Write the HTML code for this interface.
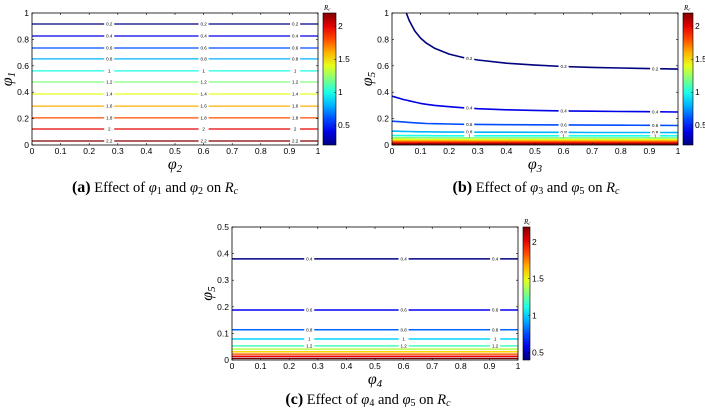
<!DOCTYPE html>
<html><head><meta charset="utf-8"><style>
body{margin:0;background:#fff;width:705px;height:414px;overflow:hidden}
svg{display:block}
.tk{font-family:"Liberation Sans",sans-serif;font-size:8.5px;fill:#000}
.ax{font-family:"Liberation Serif",serif;font-style:italic;font-size:16px;fill:#000}
.rc{font-family:"Liberation Serif",serif;font-style:italic;font-size:7px;fill:#000}
.cap{font-family:"Liberation Serif",serif;font-size:14.5px;fill:#000}
.cl{font-family:"Liberation Sans",sans-serif;font-size:4.5px;fill:#000}
</style></head><body>
<svg id="fig" width="705" height="414"></svg>
<script>
// ---- data ----
const levelsA = [0.2,0.4,0.6,0.8,1,1.2,1.4,1.6,1.8,2,2.2];
const phi1A   = [0.917,0.826,0.735,0.652,0.561,0.477,0.386,0.295,0.205,0.121,0.030];
const phi3B = [0,0.04,0.05,0.06,0.08,0.1,0.12,0.15,0.2,0.25,0.3,0.4,0.5,0.6,0.7,0.8,0.9,1];
const levelsB = [0.2,0.4,0.6,0.8,1,1.2,1.4,1.6,1.8,2,2.2];
const b02 = [2.1,1.076,1.0,0.943,0.863,0.81,0.772,0.732,0.689,0.662,0.644,0.62,0.605,0.595,0.588,0.583,0.579,0.575];
const b04 = [0.37,0.345,0.34,0.335,0.325,0.315,0.308,0.3,0.29,0.282,0.275,0.267,0.262,0.258,0.256,0.254,0.252,0.25];
const b06 = [0.18,0.175,0.173,0.171,0.168,0.165,0.163,0.161,0.159,0.157,0.156,0.154,0.153,0.152,0.151,0.15,0.149,0.148];
const b08 = [0.105,0.103,0.102,0.102,0.101,0.1,0.1,0.099,0.098,0.098,0.097,0.097,0.096,0.096,0.095,0.095,0.095,0.094];
const b10 = [0.072,0.072,0.071,0.071,0.071,0.071,0.071,0.07,0.07,0.07,0.07,0.07,0.07,0.07,0.07,0.07,0.07,0.07];
const b12 = [0.055,0.055,0.055,0.055,0.055,0.055,0.055,0.054,0.054,0.054,0.054,0.054,0.054,0.054,0.054,0.054,0.054,0.054];
const b14 = [0.043,0.043,0.043,0.043,0.042,0.042,0.042,0.042,0.042,0.042,0.042,0.042,0.042,0.042,0.042,0.042,0.042,0.042];
const b16 = [0.032,0.032,0.032,0.032,0.032,0.032,0.032,0.032,0.032,0.032,0.032,0.032,0.032,0.032,0.032,0.032,0.032,0.032];
const b18 = [0.023,0.023,0.023,0.023,0.023,0.023,0.023,0.023,0.023,0.023,0.023,0.023,0.023,0.023,0.023,0.023,0.023,0.023];
const b20 = [0.014,0.014,0.014,0.014,0.014,0.014,0.014,0.014,0.014,0.014,0.014,0.014,0.014,0.014,0.014,0.014,0.014,0.014];
const b22 = [0.006,0.006,0.006,0.006,0.006,0.006,0.006,0.006,0.006,0.006,0.006,0.006,0.006,0.006,0.006,0.006,0.006,0.006];
const levelsC = [0.4,0.6,0.8,1,1.2,1.4,1.6,1.8,2,2.2];
const phi5C   = [0.38,0.188,0.114,0.079,0.053,0.041,0.031,0.022,0.014,0.006];
const xTicks = ["0","0.1","0.2","0.3","0.4","0.5","0.6","0.7","0.8","0.9","1"];
const yTicksAB = ["0","0.2","0.4","0.6","0.8","1"];
const yTicksC = ["0","0.1","0.2","0.3","0.4","0.5"];
const cbTicks = ["0.5","1","1.5","2"];

const NS="http://www.w3.org/2000/svg", svg=document.getElementById('fig');
function mk(tag,attrs,parent){const e=document.createElementNS(NS,tag);for(const k in attrs)e.setAttribute(k,attrs[k]);(parent||svg).appendChild(e);return e;}
function jet(t){t=Math.max(0,Math.min(1,t));const c=v=>Math.round(255*Math.max(0,Math.min(1,v)));
 return `rgb(${c(1.5-Math.abs(4*t-3))},${c(1.5-Math.abs(4*t-2))},${c(1.5-Math.abs(4*t-1))})`;}

function panel(P){
 const g=mk('g',{});
 
 
 const sx=v=>P.x0+(P.x1-P.x0)*v, sy=v=>P.y1-(P.y1-P.y0)*v/P.ymax;
 const col=l=>jet((l-P.cmin)/(P.cmax-P.cmin));
 const cp0=mk('clipPath',{id:'c'+P.id},g);
 mk('rect',{x:P.x0,y:P.y0,width:P.x1-P.x0,height:P.y1-P.y0},cp0);
 const lg=mk('g',{'clip-path':`url(#c${P.id})`},g);
 P.series.forEach(s=>{
  const pts=s.xs.map((x,i)=>sx(x).toFixed(1)+','+sy(s.ys[i]).toFixed(1)).join(' ');
  const pl=mk('polyline',{points:pts,fill:'none',stroke:col(s.level),'stroke-width':P.sw||1.3,'stroke-linejoin':'round'},lg);
  
  
  if(s.label!==false){
   [0.27,0.6,0.92].forEach(lx=>{
    let k=0;while(k<s.xs.length-2&&s.xs[k+1]<lx)k++;
    const f=(lx-s.xs[k])/(s.xs[k+1]-s.xs[k]);const yv=s.ys[k]+f*(s.ys[k+1]-s.ys[k]);
    if(yv>P.ymax)return;
    mk('rect',{x:sx(lx)-5,y:sy(yv)-2.5,width:10,height:5,fill:'#fff'},lg);
    const t=mk('text',{x:sx(lx),y:sy(yv)+1.6,'text-anchor':'middle',class:'cl'},lg);t.textContent=s.level;
   });
  }
 });
 mk('rect',{x:P.x0,y:P.y0,width:P.x1-P.x0,height:P.y1-P.y0,fill:'none',stroke:'#000','stroke-width':0.8},g);
 xTicks.forEach((t,i)=>{const x=sx(i/10);
  mk('line',{x1:x,x2:x,y1:P.y1,y2:P.y1-2,stroke:'#000','stroke-width':0.6},g);
  mk('line',{x1:x,x2:x,y1:P.y0,y2:P.y0+2,stroke:'#000','stroke-width':0.6},g);
  const e=mk('text',{x:x,y:P.y1+9,'text-anchor':'middle',class:'tk'},g);e.textContent=t;});
 P.yt.forEach((t,i)=>{const y=sy(i*P.ymax/(P.yt.length-1));
  mk('line',{x1:P.x0,x2:P.x0+2,y1:y,y2:y,stroke:'#000','stroke-width':0.6},g);
  mk('line',{x1:P.x1,x2:P.x1-2,y1:y,y2:y,stroke:'#000','stroke-width':0.6},g);
  const e=mk('text',{x:P.x0-3,y:y+3,'text-anchor':'end',class:'tk'},g);e.textContent=t;});
 const gid='gr'+P.id;const lgd=mk('linearGradient',{id:gid,x1:0,y1:1,x2:0,y2:0},g);
 for(let i=0;i<=10;i++)mk('stop',{offset:i/10,'stop-color':jet(i/10)},lgd);
 const cb=mk('rect',{x:P.cbx,y:P.cby0,width:P.cbw,height:P.cby1-P.cby0,fill:`url(#${gid})`,stroke:'#000','stroke-width':0.6},g);
 
 const cy=v=>P.cby1-(P.cby1-P.cby0)*(v-P.cmin)/(P.cmax-P.cmin);
 cbTicks.forEach(t=>{const y=cy(+t);const e=mk('text',{x:P.cbx+P.cbw+2,y:y+3,class:'tk'},g);e.textContent=t;
  mk('line',{x1:P.cbx+P.cbw,x2:P.cbx+P.cbw-2,y1:y,y2:y,stroke:'#000','stroke-width':0.5},g);});
 const rc=mk('text',{x:P.cbx+1,y:P.cby0-3,class:'rc'},g);rc.innerHTML='R<tspan font-size="5" dy="1">c</tspan>';
 const xl=mk('text',{x:(P.x0+P.x1)/2,y:P.y1+24,'text-anchor':'middle',class:'ax'},g);
 xl.innerHTML=`φ<tspan font-size="11" dy="3">${P.xs}</tspan>`;
 
 const yx=P.x0-20,yy=(P.y0+P.y1)/2;
 const yl=mk('text',{x:yx,y:yy,'text-anchor':'middle',class:'ax',transform:`rotate(-90 ${yx} ${yy})`},g);
 yl.innerHTML=`φ<tspan font-size="11" dy="3">${P.ys}</tspan>`;
 
 const a=P.ys<P.xs?P.ys:P.xs, b=P.ys<P.xs?P.xs:P.ys;
 const cp=mk('text',{x:P.capx,y:P.capy,'text-anchor':'middle',class:'cap'},g);
 cp.innerHTML=`<tspan font-weight="bold" font-size="16">(${P.id})</tspan> Effect of <tspan font-style="italic">φ</tspan><tspan font-size="10" dy="2">${a}</tspan><tspan dy="-2"> and </tspan><tspan font-style="italic">φ</tspan><tspan font-size="10" dy="2">${b}</tspan><tspan dy="-2"> on </tspan><tspan font-style="italic">R</tspan><tspan font-size="10" font-style="italic" dy="2">c</tspan>`;
 
}
panel({id:'a',name:'panel-a',x0:32,x1:318,y0:13,y1:145,ymax:1,yt:yTicksAB,cmin:0.2,cmax:2.2,
 cbx:323,cbw:13,cby0:13,cby1:145,xs:'2',ys:'1',capx:155,capy:192,
 series:levelsA.map((l,i)=>({level:l,xs:[0,1],ys:[phi1A[i],phi1A[i]]}))});
const bY=[b02,b04,b06,b08,b10,b12,b14,b16,b18,b20,b22];
panel({id:'b',name:'panel-b',x0:392,x1:678,y0:13,y1:145,ymax:1,yt:yTicksAB,cmin:0.2,cmax:2.2,
 cbx:683,cbw:10,cby0:13,cby1:145,xs:'3',ys:'5',capx:536,capy:192,sw:1.6,
 series:levelsB.map((l,i)=>({level:l,xs:phi3B,ys:bY[i],label:l<=1}))});
panel({id:'c',name:'panel-c',x0:232,x1:518,y0:227,y1:360,ymax:0.5,yt:yTicksC,cmin:0.4,cmax:2.2,
 cbx:523,cbw:7,cby0:227,cby1:360,xs:'4',ys:'5',capx:368,capy:404,sw:1.5,
 series:levelsC.map((l,i)=>({level:l,xs:[0,1],ys:[phi5C[i],phi5C[i]],label:l<=1.2}))});
</script>
</body></html>
